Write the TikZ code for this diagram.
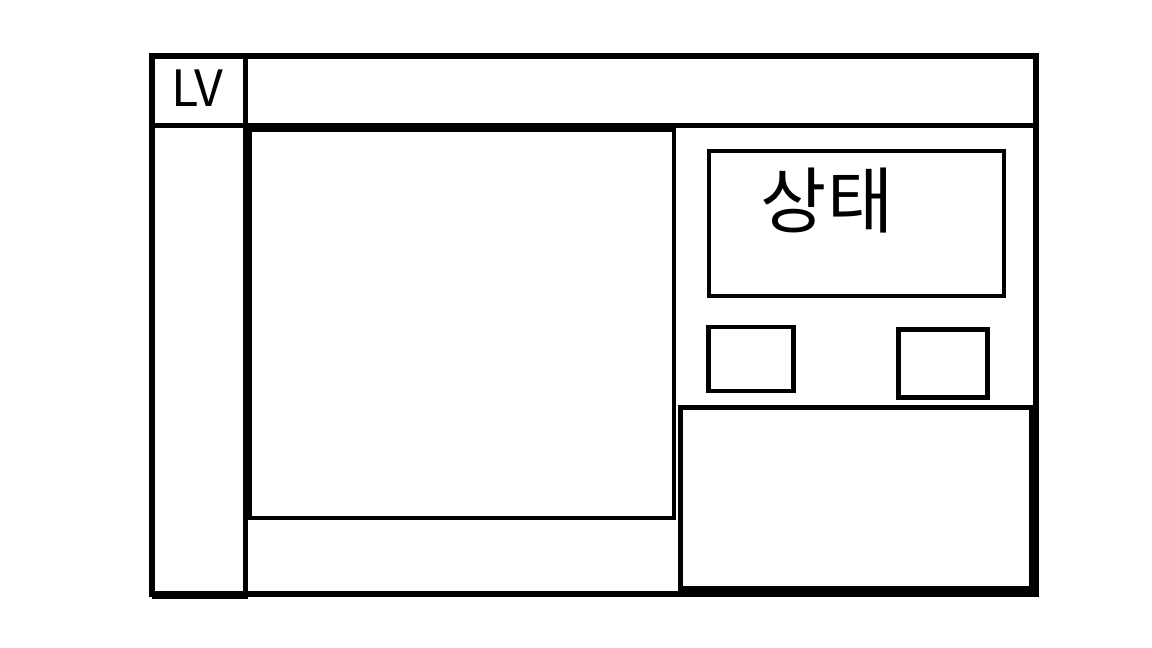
\documentclass[tikz,border=0pt]{standalone}
\usepackage{fontspec}
\newfontfamily\kofont{Noto Sans CJK KR}
\usetikzlibrary{positioning}

\begin{document}
\begin{tikzpicture}[x=1pt, y=-1pt,
  frame/.style={draw=black, line width=6pt},
  pane/.style={draw=black, line width=#1, inner sep=0pt},
  pane/.default=4pt,
  hand/.style={font=\kofont, inner sep=0pt}
]
\useasboundingbox (0,0) rectangle (1152,648);

% Window frame and dividers
\draw[frame] (151.5,55.5) rectangle (1035.5,593.5);
\draw[line width=5pt] (151.5,125) -- (1035.5,125);
\draw[line width=5.5pt] (151.5,596) -- (245.5,596) -- (245.5,55.5);

% Panes
\node[pane, minimum width=424pt, minimum height=388pt]   (canvas) at (462,324)     {};
\node[pane, minimum width=295pt, minimum height=145pt]   (status) at (856.5,223.5) {};
\node[pane=4.7pt, minimum width=85pt, minimum height=64pt] (btnA) at (751,359)     {};
\node[pane=4.7pt, minimum width=89pt, minimum height=68pt] (btnB) at (943,363.5)   {};
\node[pane=5pt, minimum width=351pt, minimum height=181pt] (info) at (856,498)     {};

% Labels
\node[hand, font=\kofont\fontsize{50}{50}\selectfont] (lv)    at (197,88)  {LV};
\node[hand, font=\kofont\fontsize{72}{72}\selectfont] (state) at (827,201) {상태};
\end{tikzpicture}
\end{document}
